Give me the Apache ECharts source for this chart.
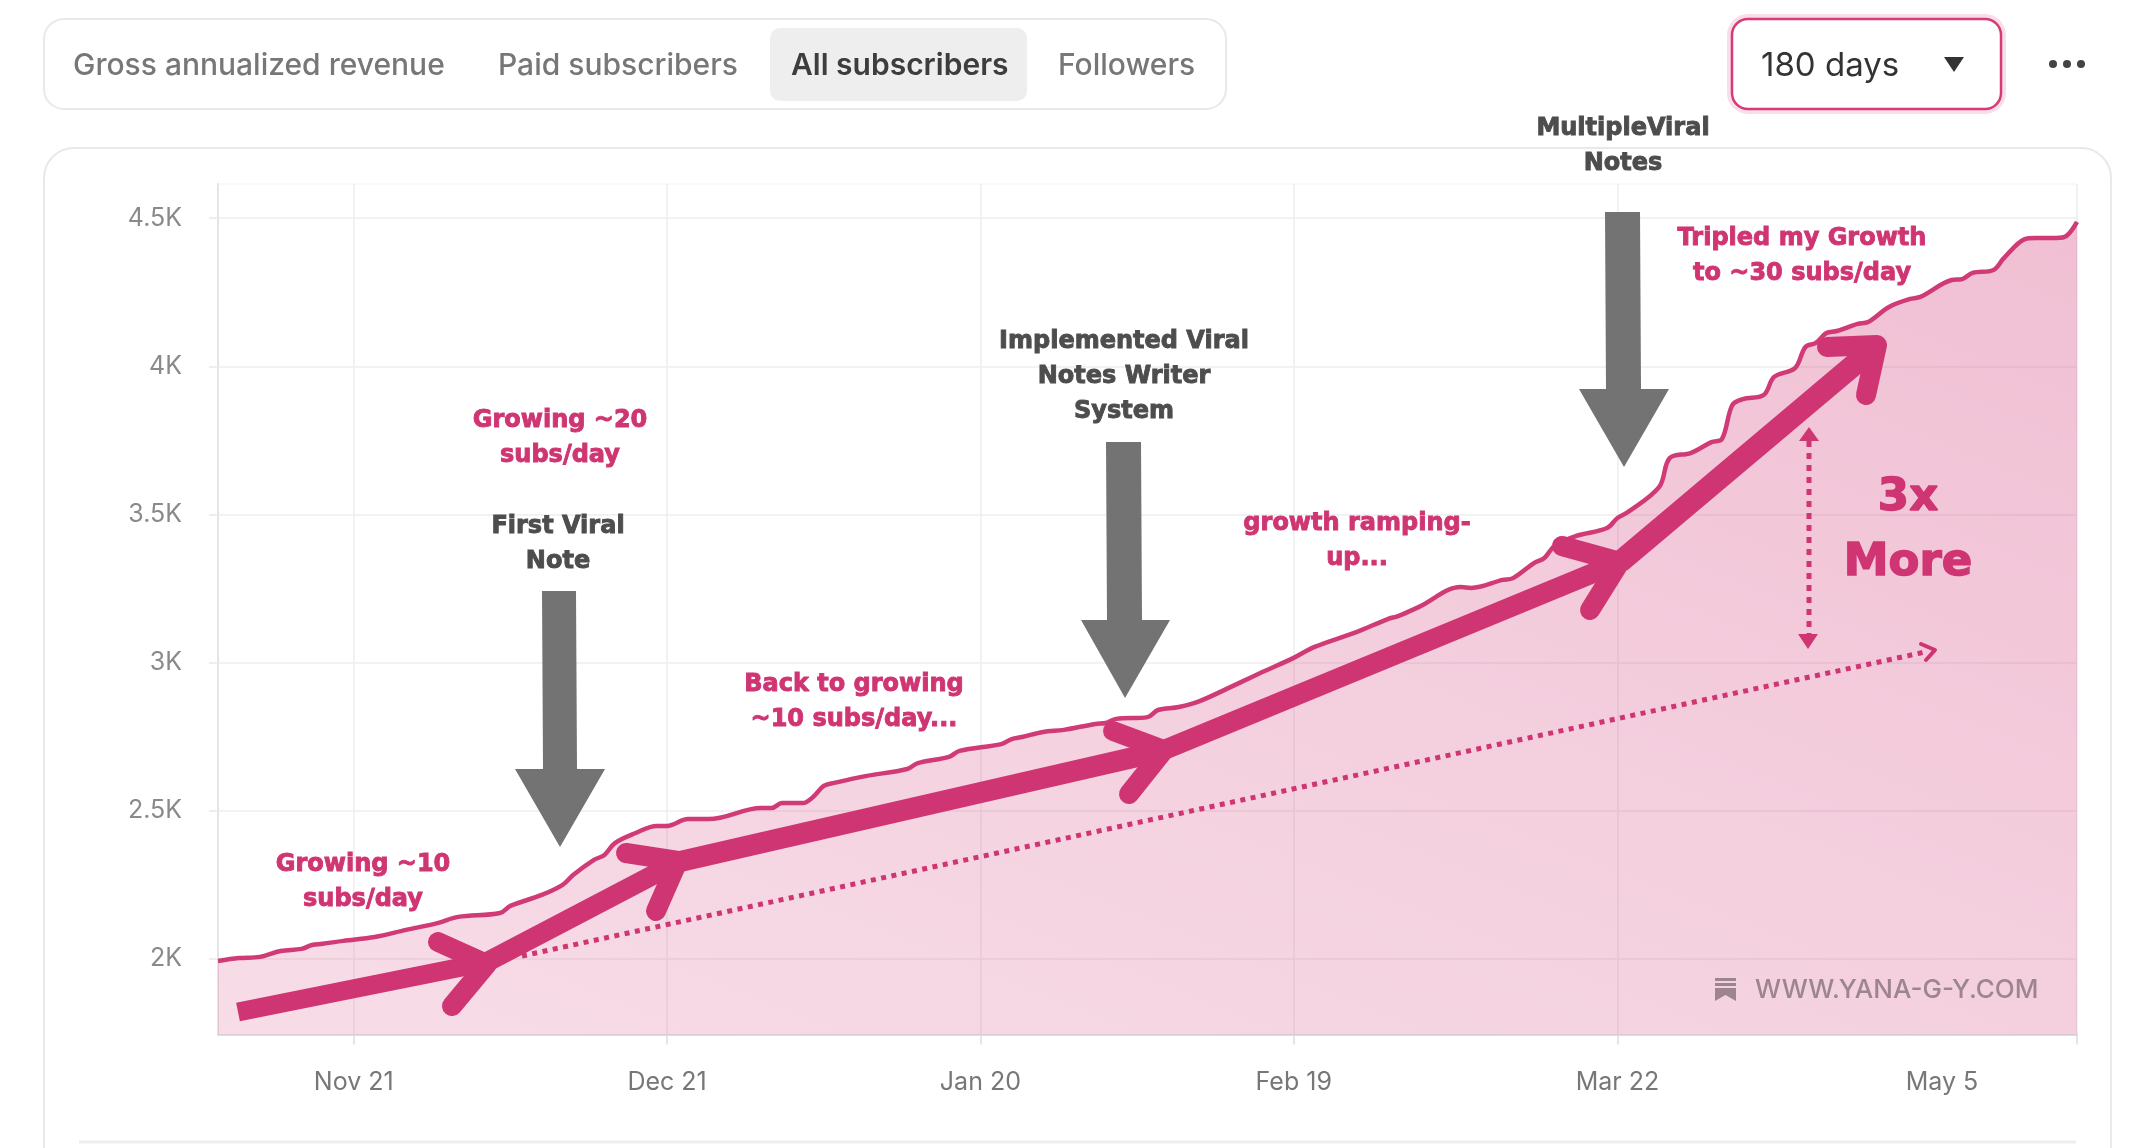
<!DOCTYPE html>
<html lang="en">
<head>
    <meta charset="UTF-8">
    <title>All subscribers</title>
    <script src="https://cdn.jsdelivr.net/npm/echarts@6/dist/echarts.min.js"></script>
</head>
<style>
    body{
        width: 100%;
        height: 100%;
        margin: 0;
        padding: 0;
        background: #fff;
    }
</style>
<body>
<div id="main" style="width: 2138px;height:1148px;"></div>
<script>
    // values
    var dates = [
        '2024-11-08','2024-11-10','2024-11-12','2024-11-14','2024-11-16','2024-11-17','2024-11-18','2024-11-20','2024-11-23','2024-11-26',
        '2024-11-29','2024-12-01','2024-12-05','2024-12-06','2024-12-09','2024-12-11','2024-12-12','2024-12-14','2024-12-15','2024-12-16',
        '2024-12-18','2024-12-20','2024-12-21','2024-12-23','2024-12-25','2024-12-30','2024-12-31','2025-01-01','2025-01-03','2025-01-04',
        '2025-01-05','2025-01-06','2025-01-09','2025-01-13','2025-01-14','2025-01-17','2025-01-18','2025-01-22','2025-01-23','2025-01-24',
        '2025-01-26','2025-01-28','2025-01-31','2025-02-01','2025-02-02','2025-02-05','2025-02-06','2025-02-08','2025-02-10','2025-02-14',
        '2025-02-16','2025-02-19','2025-02-21','2025-02-25','2025-02-28','2025-03-01','2025-03-03','2025-03-07','2025-03-08','2025-03-11',
        '2025-03-12','2025-03-14','2025-03-15','2025-03-16','2025-03-18','2025-03-21','2025-03-22','2025-03-23','2025-03-26','2025-03-27',
        '2025-03-29','2025-03-31','2025-04-01','2025-04-02','2025-04-03','2025-04-05','2025-04-06','2025-04-08','2025-04-09','2025-04-10',
        '2025-04-11','2025-04-12','2025-04-14','2025-04-15','2025-04-17','2025-04-19','2025-04-20','2025-04-23','2025-04-24','2025-04-25',
        '2025-04-27','2025-04-28','2025-04-30','2025-05-01','2025-05-03','2025-05-04','2025-05-05'
    ];
    var subscribers = [
        1993,2003,2007,2027,2034,2047,2051,2061,2074,2098,
        2121,2142,2155,2179,2216,2250,2283,2334,2351,2391,
        2425,2449,2449,2472,2472,2509,2509,2526,2526,2547,
        2584,2594,2617,2641,2661,2682,2702,2725,2742,2749,
        2766,2773,2793,2796,2810,2816,2840,2850,2870,2935,
        2968,3016,3053,3103,3147,3157,3188,3255,3252,3279,
        3285,3336,3353,3395,3427,3454,3488,3508,3593,3690,
        3707,3744,3754,3869,3889,3903,3964,3994,4065,4079,
        4112,4119,4143,4149,4200,4227,4234,4291,4294,4315,
        4325,4365,4429,4433,4433,4440,4487
    ];
    var yTicks = [2000, 2500, 3000, 3500, 4000, 4500];
    var yTickLabels = ['2K', '2.5K', '3K', '3.5K', '4K', '4.5K'];
    var xTicks = ['2024-11-21', '2024-12-21', '2025-01-20', '2025-02-19', '2025-03-22', '2025-05-05'];
    var xTickLabels = ['Nov 21', 'Dec 21', 'Jan 20', 'Feb 19', 'Mar 22', 'May 5'];
    var tabs = ['Gross annualized revenue', 'Paid subscribers', 'All subscribers', 'Followers'];

    var PINK = '#cf3572', GREY = '#737373', DARK = '#4d4d4d';
    var UI = 'Inter, sans-serif';
    var NOTE = '"DejaVu Sans", sans-serif';

    function ts(s) {
        return +echarts.time.parse(s);
    }
    var xTickValues = xTicks.map(ts);

    // helpers for the hand drawn overlay
    function text(t, x, y, size, color, weight, align, family, heavy) {
        return {
            type: 'text', z: 20, silent: true,
            style: {
                text: t, x: x, y: y, fill: color, fontFamily: family || UI,
                fontSize: size, fontWeight: weight || 400,
                align: align || 'center', verticalAlign: 'middle',
                stroke: heavy ? color : null, lineWidth: heavy || 0
            }
        };
    }
    function note(lines, x, y, color) {
        return lines.map(function (l, i) {
            return text(l, x, y + 2.5 + i * 35, 24, color, 700, 'center', NOTE, 0.9);
        });
    }
    function stroke(points, width, cap, dash) {
        return {
            type: 'polyline', z: 15, silent: true,
            shape: {points: points},
            style: {stroke: PINK, fill: null, lineWidth: width, lineCap: cap || 'round', lineJoin: 'round', lineDash: dash || null}
        };
    }
    function poly(points, color, z) {
        return {type: 'polygon', z: z || 15, silent: true, shape: {points: points}, style: {fill: color}};
    }
    function box(x, y, w, h, r, fill, line, lw, z) {
        return {
            type: 'rect', z: z || 0, silent: true,
            shape: {x: x, y: y, width: w, height: h, r: r},
            style: {fill: fill, stroke: line || null, lineWidth: lw || 0}
        };
    }
    function greyArrow(x0, x1, top, baseY, hx0, hx1, tipX, tipY) {
        return poly([[x0, top], [x1, top], [x1 + 1, baseY], [hx1, baseY], [tipX, tipY], [hx0, baseY], [x0 + 1, baseY]], GREY);
    }

    var overlay = [
        // cards
        box(44, 148, 2067, 1100, 30, null, '#e9e9e9', 2, -2),
        box(44, 19, 1182, 90, 20, '#fff', '#e9e9e9', 2),
        box(770, 28, 257, 73, 10, '#eeeeee'),
        box(1730, 17, 273, 94, 18, null, '#f9dde8', 6),
        box(1732, 19, 269, 90, 16, '#fff', '#d63a77', 2.5),
        {type: 'line', z: 1, silent: true, shape: {x1: 79, y1: 1142, x2: 2076, y2: 1142}, style: {stroke: '#eeeeee', lineWidth: 3}},
        text(tabs[0], 73, 66, 30, '#777777', 500, 'left'),
        text(tabs[1], 498, 66, 30, '#777777', 500, 'left'),
        text(tabs[2], 791, 66, 30, '#3d3d3d', 600, 'left'),
        text(tabs[3], 1058, 66, 30, '#777777', 500, 'left'),
        text('180 days', 1761, 66, 33, '#333333', 400, 'left'),
        poly([[1944, 57], [1964, 57], [1954, 72]], '#333333'),
        {type: 'circle', z: 5, silent: true, shape: {cx: 2053, cy: 64, r: 4}, style: {fill: '#444'}},
        {type: 'circle', z: 5, silent: true, shape: {cx: 2067, cy: 64, r: 4}, style: {fill: '#444'}},
        {type: 'circle', z: 5, silent: true, shape: {cx: 2081, cy: 64, r: 4}, style: {fill: '#444'}},

        // dotted trend and the double arrow
        stroke([[522, 956], [1925, 652]], 5, 'butt', [5, 5.5]),
        stroke([[1921, 644], [1935, 650], [1926, 660]], 4),
        stroke([[1809, 441], [1809, 634]], 5, 'butt', [6, 6]),
        poly([[1809, 427], [1819, 441], [1799, 441]], PINK),
        poly([[1808, 649], [1798, 634], [1818, 634]], PINK),

        // thick growth arrows
        stroke([[238, 1012], [487, 962]], 19, 'butt'),
        stroke([[438, 942], [487, 964], [452, 1006]], 20),
        stroke([[487, 962], [678, 862]], 20, 'butt'),
        stroke([[626, 853], [678, 861], [656, 911]], 20),
        stroke([[678, 862], [1166, 750]], 21, 'butt'),
        stroke([[1113, 731], [1164, 750], [1129, 794]], 20),
        stroke([[1164, 750], [1620, 562]], 20, 'butt'),
        stroke([[1562, 546], [1620, 562], [1590, 610]], 20),
        stroke([[1620, 562], [1874, 348]], 22, 'butt'),
        stroke([[1827, 347], [1877, 345], [1866, 395]], 20),

        // grey pointers
        greyArrow(542, 576, 591, 769, 515, 605, 560, 847),
        greyArrow(1106, 1141, 442, 620, 1081, 1170, 1125, 698),
        greyArrow(1605, 1640, 212, 389, 1579, 1669, 1624, 467),

        // 3x label
        text('3x', 1908, 498, 45, PINK, 700, 'center', NOTE, 1.5),
        text('More', 1908, 563, 45, PINK, 700, 'center', NOTE, 1.5),

        // watermark
        box(1715, 978, 21, 3, 0, '#9c8590', null, 0, 15),
        box(1715, 983, 21, 3, 0, '#9c8590', null, 0, 15),
        poly([[1715, 988], [1736, 988], [1736, 1001], [1725.5, 995], [1715, 1001]], '#9c8590'),
        text('WWW.YANA-G-Y.COM', 1755, 990, 26, '#9c8590', 500, 'left')
    ].concat(
        note(['MultipleViral', 'Notes'], 1623, 126, DARK),
        note(['Implemented Viral', 'Notes Writer', 'System'], 1124, 339, DARK),
        note(['First Viral', 'Note'], 558, 524, DARK),
        note(['Growing ~20', 'subs/day'], 560, 418, PINK),
        note(['Growing ~10', 'subs/day'], 363, 862, PINK),
        note(['Back to growing', '~10 subs/day...'], 854, 682, PINK),
        note(['growth ramping-', 'up...'], 1357, 521, PINK),
        note(['Tripled my Growth', 'to ~30 subs/day'], 1802, 236, PINK)
    );

    var chart = echarts.init(document.getElementById('main'));
    var option = {
        animation: false,
        backgroundColor: '#fff',
        grid: {
            show: true, borderColor: '#f3f3f3', borderWidth: 1,
            left: 218, right: 61, top: 184, bottom: 113.5
        },
        xAxis: {
            type: 'value', // plain ms values, time axes choke on customValues
            min: ts(dates[0]),
            max: ts(dates[dates.length - 1]),
            axisLine: {lineStyle: {color: '#dddddd', width: 2}},
            axisTick: {customValues: xTickValues, length: 10, lineStyle: {color: '#dddddd', width: 1.5}},
            splitLine: {show: true, lineStyle: {color: '#eeeeee', width: 1.5}},
            axisLabel: {
                customValues: xTickValues,
                margin: 35,
                color: '#777777',
                fontFamily: UI,
                fontSize: 25,
                formatter: function (value) {
                    var label = xTickLabels[xTickValues.indexOf(value)];
                    // the last label sits left of its tick in the reference
                    return label === 'May 5' ? '{far|' + label + '}' : label;
                },
                rich: {far: {color: '#777777', fontFamily: UI, fontSize: 25, padding: [0, 270, 0, 0]}}
            }
        },
        yAxis: {
            type: 'value',
            min: 1745,
            max: 4615,
            axisLine: {show: true, lineStyle: {color: '#e5e5e5', width: 2}},
            axisTick: {show: true, customValues: yTicks, length: 9, lineStyle: {color: '#eeeeee', width: 2}},
            splitLine: {show: true, lineStyle: {color: '#f2f2f2', width: 2}},
            axisLabel: {
                customValues: yTicks,
                margin: 36,
                color: '#8a8a8a',
                fontFamily: UI,
                fontSize: 25,
                formatter: function (value) {
                    return yTickLabels[yTicks.indexOf(value)];
                }
            }
        },
        series: [{
            name: 'All subscribers',
            type: 'line',
            data: dates.map(function (d, i) {
                return [ts(d), subscribers[i]];
            }),
            showSymbol: false,
            smooth: 0.35,
            lineStyle: {color: '#d03a76', width: 4.5},
            areaStyle: {
                opacity: 1,
                color: new echarts.graphic.LinearGradient(0, 1, 0.3, -0.7, [
                    {offset: 0, color: 'rgba(208,52,115,0.17)'},
                    {offset: 0.5, color: 'rgba(208,52,115,0.235)'},
                    {offset: 1, color: 'rgba(208,52,115,0.32)'}
                ])
            }
        }],
        graphic: overlay
    };
    chart.setOption(option);
</script>
</body>
</html>
